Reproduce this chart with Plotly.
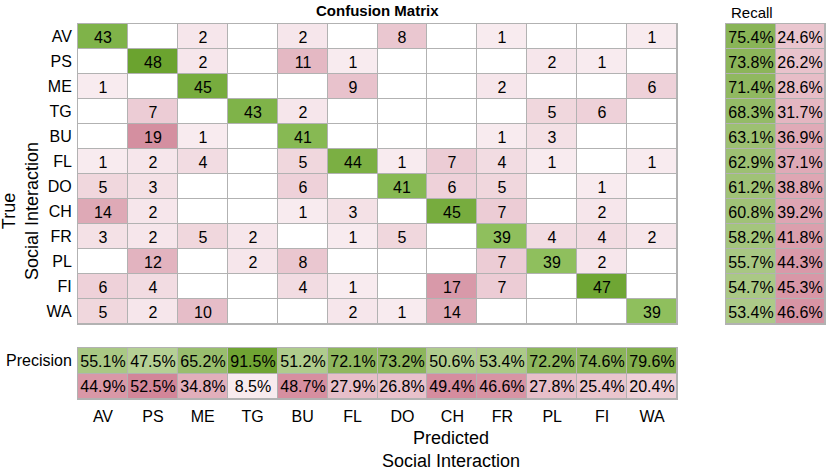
import plotly.graph_objects as go

# Class labels (rows = true, columns = predicted)
classes = ["AV", "PS", "ME", "TG", "BU", "FL", "DO", "CH", "FR", "PL", "FI", "WA"]

# Confusion matrix counts (0 = empty cell)
counts = [
    [43, 0, 2, 0, 2, 0, 8, 0, 1, 0, 0, 1],
    [0, 48, 2, 0, 11, 1, 0, 0, 0, 2, 1, 0],
    [1, 0, 45, 0, 0, 9, 0, 0, 2, 0, 0, 6],
    [0, 7, 0, 43, 2, 0, 0, 0, 0, 5, 6, 0],
    [0, 19, 1, 0, 41, 0, 0, 0, 1, 3, 0, 0],
    [1, 2, 4, 0, 5, 44, 1, 7, 4, 1, 0, 1],
    [5, 3, 0, 0, 6, 0, 41, 6, 5, 0, 1, 0],
    [14, 2, 0, 0, 1, 3, 0, 45, 7, 0, 2, 0],
    [3, 2, 5, 2, 0, 1, 5, 0, 39, 4, 4, 2],
    [0, 12, 0, 2, 8, 0, 0, 0, 7, 39, 2, 0],
    [6, 4, 0, 0, 4, 1, 0, 17, 7, 0, 47, 0],
    [5, 2, 10, 0, 0, 2, 1, 14, 0, 0, 0, 39],
]

# Row / column summaries (percent)
recall = [75.4, 73.8, 71.4, 68.3, 63.1, 62.9, 61.2, 60.8, 58.2, 55.7, 54.7, 53.4]
recall_miss = [24.6, 26.2, 28.6, 31.7, 36.9, 37.1, 38.8, 39.2, 41.8, 44.3, 45.3, 46.6]
precision = [55.1, 47.5, 65.2, 91.5, 51.2, 72.1, 73.2, 50.6, 53.4, 72.2, 74.6, 79.6]
precision_miss = [44.9, 52.5, 34.8, 8.5, 48.7, 27.9, 26.8, 49.4, 46.6, 27.8, 25.4, 20.4]

FONT = "Liberation Sans, Arial, sans-serif"
GRID = "rgb(178,178,178)"
W, H = 829, 470

n = len(classes)
diag_z = [[counts[i][j] if i == j else None for j in range(n)] for i in range(n)]
off_z = [[counts[i][j] if (i != j and counts[i][j] > 0) else None for j in range(n)] for i in range(n)]
diag_t = [[str(counts[i][j]) if i == j else "" for j in range(n)] for i in range(n)]
off_t = [[str(counts[i][j]) if (i != j and counts[i][j] > 0) else "" for j in range(n)] for i in range(n)]

# Green for correct share (negative z), pink for error share (positive z)
pct_scale = [[0, "rgb(99,155,32)"], [0.5, "rgb(255,255,255)"], [1, "rgb(170,25,60)"]]

fig = go.Figure()

common = dict(xgap=1, ygap=1, showscale=False, hoverinfo="skip",
              textfont=dict(family=FONT, size=16, color="black"))

# Main matrix: white base, pink off-diagonal, green diagonal
fig.add_trace(go.Heatmap(x=classes, y=classes, z=[[0] * n for _ in range(n)],
                         colorscale=[[0, "white"], [1, "white"]], **common))
fig.add_trace(go.Heatmap(x=classes, y=classes, z=off_z, text=off_t, texttemplate="%{text}",
                         zmin=0, zmax=19,
                         colorscale=[[0, "rgb(255,255,255)"], [1 / 19, "rgb(248,235,239)"],
                                     [1, "rgb(212,143,160)"]], **common))
fig.add_trace(go.Heatmap(x=classes, y=classes, z=diag_z, text=diag_t, texttemplate="%{text}",
                         zmin=39, zmax=48,
                         colorscale=[[0, "rgb(143,191,93)"], [1, "rgb(107,163,47)"]], **common))

# Recall panel (one row per class, two columns)
fig.add_trace(go.Heatmap(
    x=["rec", "miss"], y=classes,
    z=[[-r, m] for r, m in zip(recall, recall_miss)],
    text=[[f"{r:.1f}%", f"{m:.1f}%"] for r, m in zip(recall, recall_miss)],
    texttemplate="%{text}", zmin=-100, zmax=100, colorscale=pct_scale,
    xaxis="x2", yaxis="y2", **common))

# Precision panel (two rows, one column per class)
fig.add_trace(go.Heatmap(
    x=classes, y=["prec", "err"],
    z=[[-p for p in precision], precision_miss],
    text=[[f"{p:.1f}%" for p in precision], [f"{p:.1f}%" for p in precision_miss]],
    texttemplate="%{text}", zmin=-100, zmax=100, colorscale=pct_scale,
    xaxis="x3", yaxis="y3", **common))

# Pixel boxes of the three panels
main_x = [78 / W, 677 / W]
main_y = [1 - 324 / H, 1 - 24 / H]
rec_x = [726 / W, 825 / W]
prec_y = [1 - 399 / H, 1 - 348 / H]

axis_style = dict(showline=True, mirror=True, linecolor=GRID, linewidth=1,
                  ticks="", showgrid=False, zeroline=False,
                  tickfont=dict(family=FONT, size=16, color="black"))

fig.update_layout(
    width=W, height=H,
    margin=dict(l=0, r=0, t=0, b=0),
    paper_bgcolor="white",
    plot_bgcolor=GRID,
    font=dict(family=FONT, color="black"),
    xaxis=dict(domain=main_x, anchor="y", categoryorder="array", categoryarray=classes,
               showticklabels=False, **axis_style),
    yaxis=dict(domain=main_y, anchor="x", categoryorder="array", categoryarray=classes,
               autorange="reversed", ticklabelstandoff=2, **axis_style),
    xaxis2=dict(domain=rec_x, anchor="y2", categoryorder="array", categoryarray=["rec", "miss"],
                showticklabels=False, **axis_style),
    yaxis2=dict(domain=main_y, anchor="x2", categoryorder="array", categoryarray=classes,
                autorange="reversed", showticklabels=False, **axis_style),
    xaxis3=dict(domain=main_x, anchor="y3", categoryorder="array", categoryarray=classes,
                ticklabelstandoff=3, **axis_style),
    yaxis3=dict(domain=prec_y, anchor="x3", categoryorder="array", categoryarray=["prec", "err"],
                autorange="reversed", tickvals=["prec", "err"], ticktext=["Precision", ""],
                ticklabelstandoff=2, **axis_style),
    annotations=[
        dict(text="<b>Confusion Matrix</b>", x=377 / W, y=1 - 11 / H, xref="paper", yref="paper",
             xanchor="center", yanchor="middle", showarrow=False,
             font=dict(size=15, family=FONT)),
        dict(text="Recall", x=729 / W, y=1 - 13 / H, xref="paper", yref="paper",
             xanchor="left", yanchor="middle", showarrow=False,
             font=dict(size=15, family=FONT)),
        dict(text="Predicted<br>Social Interaction", x=451 / W, y=1 - 449 / H,
             xref="paper", yref="paper", xanchor="center", yanchor="middle",
             showarrow=False, font=dict(size=18, family=FONT)),
        dict(text="True<br>Social Interaction", x=21 / W, y=1 - 211 / H, textangle=-90,
             xref="paper", yref="paper", xanchor="center", yanchor="middle",
             showarrow=False, font=dict(size=18, family=FONT)),
    ],
)

# Drop the browser's default page margin so the figure sits at the window corner
fig.write_html("out.html", config={"displayModeBar": False},
               post_script="document.body.style.margin='0';document.body.style.overflow='hidden';")
